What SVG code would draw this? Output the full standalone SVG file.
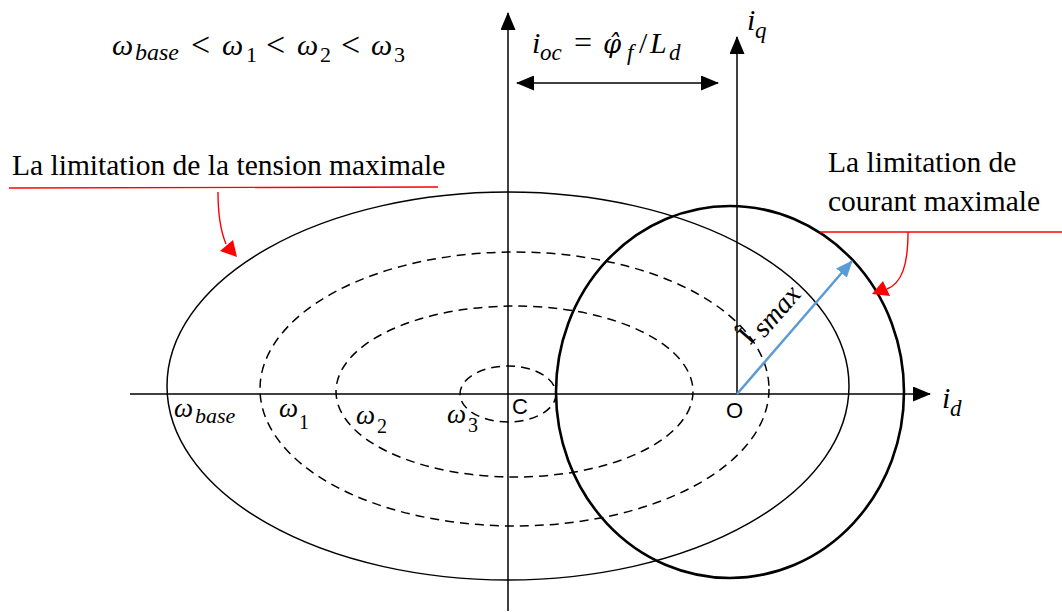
<svg xmlns="http://www.w3.org/2000/svg" width="1062" height="612" viewBox="0 0 1062 612">
<style>
.ax{stroke:#000;stroke-width:1.5;fill:none}
.thin{stroke:#000;stroke-width:1.5;fill:none}
.thick{stroke:#000;stroke-width:2.6;fill:none}
.dash{stroke:#000;stroke-width:1.5;fill:none;stroke-dasharray:9 6}
.red{stroke:#FF0000;stroke-width:1.4;fill:none}
.m{font-family:"Liberation Serif","DejaVu Serif",serif;font-style:italic;fill:#000}
.n{font-family:"Liberation Serif","DejaVu Serif",serif;fill:#000}
.s{font-family:"Liberation Sans","Open Sans",sans-serif;fill:#000}
.t{font-family:"Liberation Serif","Times New Roman",serif;font-size:29.5px;fill:#000}
</style>
<defs>
<marker id="ah" markerUnits="userSpaceOnUse" markerWidth="18" markerHeight="15" refX="17" refY="7.5" orient="auto-start-reverse"><path d="M0,0 L18,7.5 L0,15 z" fill="#000"/></marker>
<marker id="bh" markerUnits="userSpaceOnUse" markerWidth="17" markerHeight="14" refX="16" refY="7" orient="auto"><path d="M0,0 L17,7 L0,14 z" fill="#5B9BD5"/></marker>
</defs>

<g id="curves">
<ellipse id="tension-ellipse" class="thin" cx="508" cy="386" rx="341" ry="194"/>
<ellipse id="w1-ellipse" class="dash" cx="514.5" cy="389" rx="254.5" ry="137"/>
<ellipse id="w2-ellipse" class="dash" cx="514.5" cy="391.5" rx="178.5" ry="85.5"/>
<ellipse id="w3-ellipse" class="dash" cx="508" cy="394" rx="48" ry="28"/>
<ellipse id="courant-circle" class="thick" cx="730" cy="392" rx="174" ry="186"/>
</g>

<g id="connectors">
<line class="ax" x1="130" y1="394" x2="930" y2="394" marker-end="url(#ah)"/>
<line class="ax" x1="508" y1="611" x2="508" y2="13" marker-end="url(#ah)"/>
<line class="ax" x1="737" y1="394" x2="737" y2="37" marker-end="url(#ah)"/>
<line class="ax" x1="517" y1="83" x2="718" y2="83" marker-start="url(#ah)" marker-end="url(#ah)"/>
<line x1="737" y1="394" x2="852" y2="261" stroke="#5B9BD5" stroke-width="2.5" marker-end="url(#bh)"/>
<line class="red" x1="9" y1="188" x2="438" y2="187"/>
<path class="red" d="M218,192 C218,215 221,232 226,244"/>
<polygon points="237,257 220,251 233,240" fill="#FF0000"/>
<line class="red" x1="820" y1="232" x2="1062" y2="232"/>
<path class="red" d="M908,232 C908,265 902,283 887,289"/>
<polygon points="872,294 883,281 890,296" fill="#FF0000"/>
</g>

<g id="order-label">
<text class="m" x="112" y="55" font-size="30">ω</text>
<text class="m" x="135" y="60" font-size="24">base</text>
<text class="n" x="191" y="56" font-size="34">&lt;</text>
<text class="m" x="222" y="55" font-size="30">ω</text>
<text class="n" x="246" y="62" font-size="22">1</text>
<text class="n" x="266" y="56" font-size="34">&lt;</text>
<text class="m" x="297" y="55" font-size="30">ω</text>
<text class="n" x="320" y="62" font-size="22">2</text>
<text class="n" x="341" y="56" font-size="34">&lt;</text>
<text class="m" x="371" y="55" font-size="30">ω</text>
<text class="n" x="394" y="62" font-size="22">3</text>
</g>

<g id="ioc-label">
<text class="m" x="532" y="53" font-size="30">i</text>
<text class="m" x="540" y="60" font-size="23">oc</text>
<text class="n" x="574" y="53" font-size="32">=</text>
<text x="603" y="53" font-size="26" font-style="italic" font-family="'DejaVu Serif',serif">φ̂</text>
<text class="m" x="627" y="60" font-size="23">f</text>
<text class="n" x="639" y="53" font-size="30">/</text>
<text class="m" x="650" y="53" font-size="30">L</text>
<text class="m" x="669" y="60" font-size="23">d</text>
</g>

<g id="iq-label">
<text class="m" x="747" y="30" font-size="30">i</text>
<text class="m" x="755" y="38" font-size="23">q</text>
</g>

<g id="id-label">
<text class="m" x="942" y="408" font-size="30">i</text>
<text class="m" x="950" y="416" font-size="23">d</text>
</g>

<g id="C-label"><text class="s" x="512" y="414" font-size="22">C</text></g>
<g id="O-label"><text class="s" x="726" y="418" font-size="22">O</text></g>

<g id="w-labels">
<text class="m" x="174" y="417" font-size="27">ω</text>
<text class="m" x="195" y="423" font-size="22">base</text>
<text class="m" x="279" y="417" font-size="27">ω</text>
<text class="n" x="299" y="429" font-size="20">1</text>
<text class="m" x="356" y="424" font-size="27">ω</text>
<text class="n" x="377" y="433" font-size="20">2</text>
<text class="m" x="447" y="423" font-size="27">ω</text>
<text class="n" x="468" y="432" font-size="20">3</text>
</g>

<g id="ismax-label" transform="translate(750,346) rotate(-49)">
<text x="0" y="0" font-size="26" font-family="'DejaVu Serif',serif" fill="#000">Î</text>
<text class="m" x="15" y="6" font-size="28">smax</text>
</g>

<g id="tension-label"><text class="t" x="12" y="175">La limitation de la tension maximale</text></g>
<g id="courant-label">
<text class="t" x="828" y="172">La limitation de</text>
<text class="t" x="828" y="211">courant maximale</text>
</g>
</svg>
